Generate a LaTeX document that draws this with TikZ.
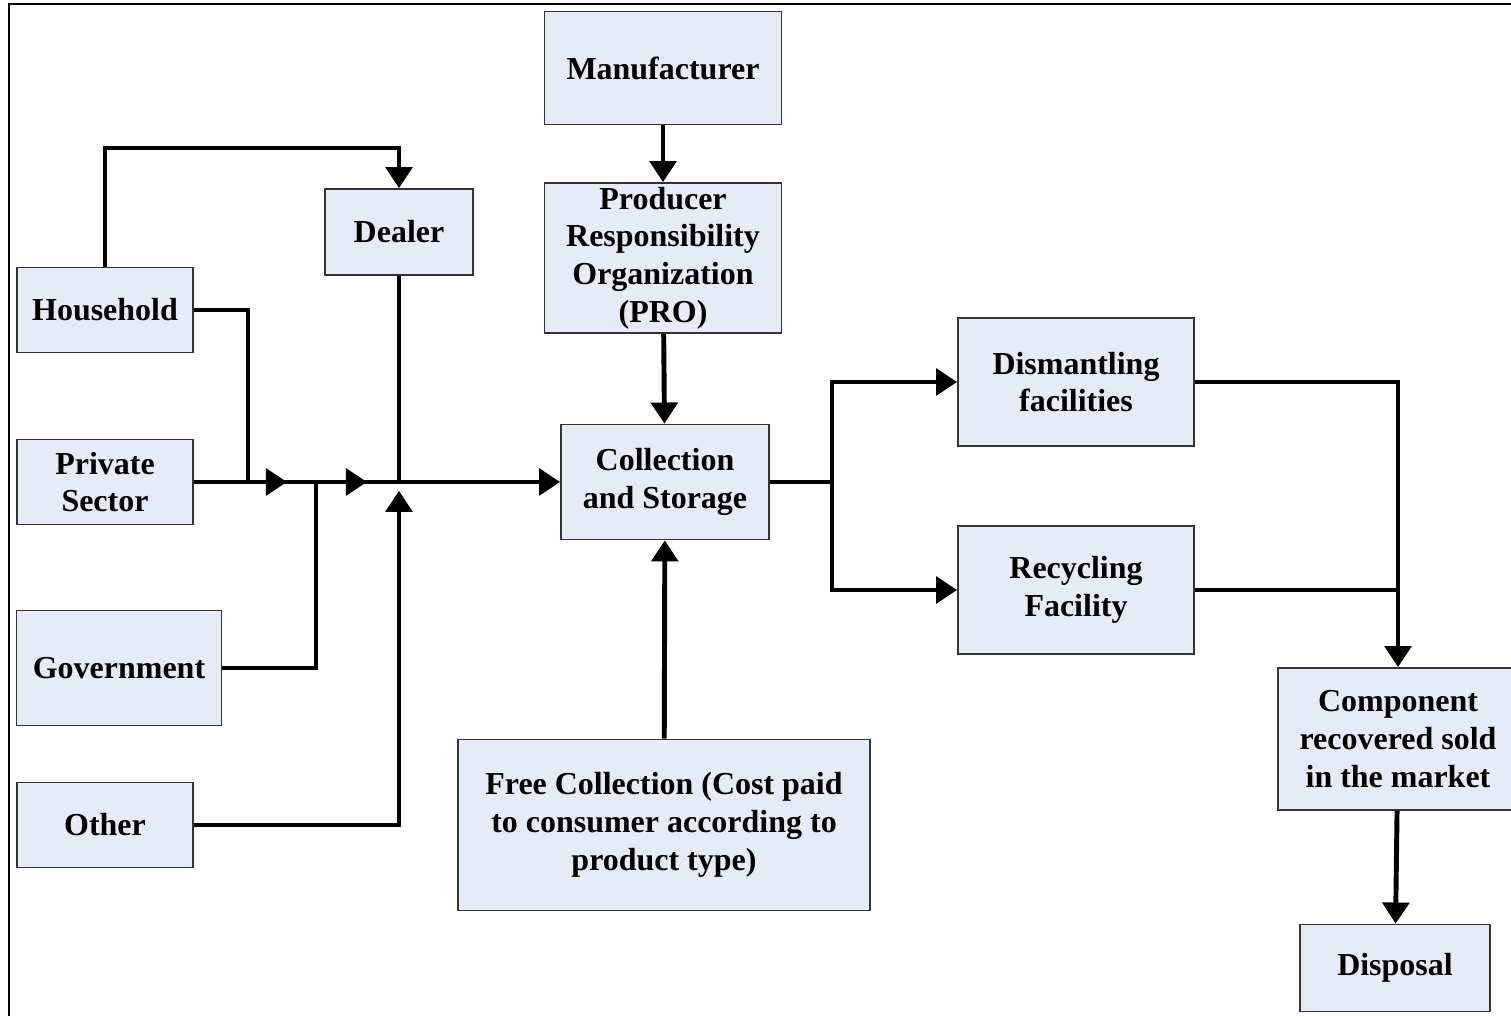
\documentclass[tikz,border=0pt]{standalone}
\usepackage{fontspec}
\setmainfont{Liberation Serif}
\usetikzlibrary{arrows.meta}
\begin{document}
\begin{tikzpicture}[x=0.02cm, y=-0.02cm,
    box/.style={rectangle, draw=black!80, line width=1pt, fill=box-fill, inner sep=0pt,
      align=center, font=\bfseries\fontsize{18.2}{21.5}\selectfont},
    flow/.style={line width=2.8pt, draw=black},
    tip/.style={flow, -{Triangle[length=12pt,width=15pt]}}]
    \def\px#1{#1*0.02cm}
    \definecolor{box-fill}{rgb}{0.90,0.925,0.97}
    \clip (0,0) rectangle (1511,1016);
    \draw[line width=1.6pt] (9,1040) -- (9,4) -- (1540,4);
    % boxes
    \node[box, minimum width=\px{237}, minimum height=\px{113}] (mf) at (663,68) {Manufacturer};
    \node[box, minimum width=\px{237}, minimum height=\px{150}] (pro) at (663,258) {Producer\\Responsibility\\Organization\\(PRO)};
    \node[box, minimum width=\px{148}, minimum height=\px{86}] (dl) at (399,232) {Dealer};
    \node[box, minimum width=\px{176}, minimum height=\px{85}] (hh) at (105,310) {Household};
    \node[box, minimum width=\px{176}, minimum height=\px{85}] (ps) at (105,482) {Private\\Sector};
    \node[box, minimum width=\px{205}, minimum height=\px{115}] (gv) at (119,668) {Government};
    \node[box, minimum width=\px{176}, minimum height=\px{85}] (ot) at (105,825) {Other};
    \node[box, minimum width=\px{208}, minimum height=\px{115}] (cs) at (665,482) {Collection\\and Storage};
    \node[box, minimum width=\px{412}, minimum height=\px{171}] (fc) at (664,825) {Free Collection (Cost paid\\to consumer according to\\product type)};
    \node[box, minimum width=\px{236}, minimum height=\px{128}] (dm) at (1076,382) {Dismantling\\facilities};
    \node[box, minimum width=\px{236}, minimum height=\px{128}] (rc) at (1076,590) {Recycling\\Facility};
    \node[box, minimum width=\px{240}, minimum height=\px{142}] (cp) at (1398,739) {Component\\recovered sold\\in the market};
    \node[box, minimum width=\px{190}, minimum height=\px{87}] (ds) at (1395,968) {Disposal};
    % junctions
    \coordinate (jn) at (dl.south |- ps.east);
    \coordinate (a1) at (287,482);
    \coordinate (a2) at (367,482);
    \coordinate (br) at (832,482);
    \coordinate (mg) at (cp.north |- rc.east);
    % left side
    \draw[tip] (hh.north) -- (hh.north |- 0,148) -| (dl.north);
    \draw[flow] (hh.east) -| (248,482);
    \draw[flow] (ps.east) -- (jn);
    \draw[tip] (ps.east) -- (a1);
    \draw[tip] (a1) -- (a2);
    \draw[flow] (gv.east) -| (316,482);
    \draw[tip, shorten >=5pt] (ot.east) -| (jn);
    \draw[flow] (dl.south) -- (jn);
    \draw[tip] (jn) -- (cs.west);
    % centre column
    \draw[tip] (mf) -- (pro);
    \draw[tip] (pro) -- (cs);
    \draw[tip] (fc) -- (cs);
    % right side
    \draw[flow] (cs.east) -- (br);
    \draw[tip] (br) |- (dm.west);
    \draw[tip] (br) |- (rc.west);
    \draw[flow] (dm.east) -| (mg);
    \draw[flow] (rc.east) -- (mg);
    \draw[tip] (mg) -- (cp.north);
    \draw[tip] (cp) -- (ds);
\end{tikzpicture}
\end{document}
